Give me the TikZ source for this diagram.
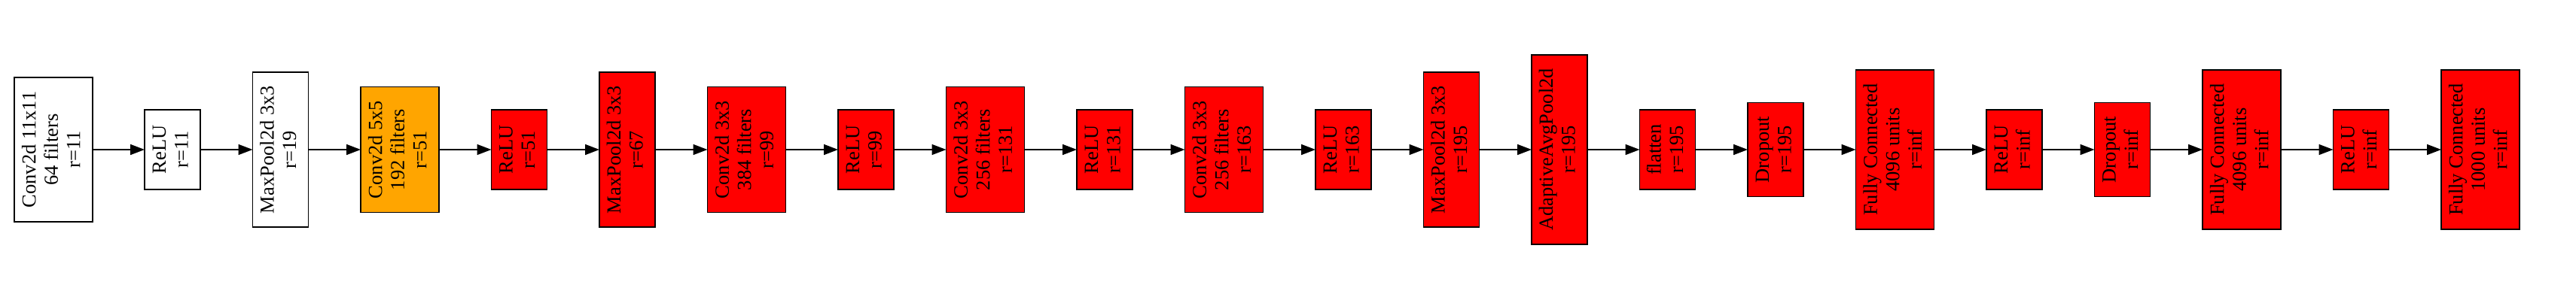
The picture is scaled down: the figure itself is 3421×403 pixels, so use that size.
\documentclass[tikz,border=0pt]{standalone}
\usepackage{fontspec}
\setmainfont{Liberation Serif}
\usetikzlibrary{arrows.meta}
\definecolor{gvred}{HTML}{FF0000}
\definecolor{gvorange}{HTML}{FFA500}
\newcommand{\vlab}[1]{\rotatebox{90}{\begin{tabular}{@{}c@{}}#1\end{tabular}}}
\tikzset{
  layer/.style={draw=black, line width=1.7pt, inner sep=0pt, outer sep=0pt,
    font=\fontsize{26.5}{29.5}\selectfont, text=black},
  two/.style={minimum width=74pt},
  three/.style={minimum width=104pt},
  plain/.style={fill=white},
  hot/.style={fill=gvred},
  warm/.style={fill=gvorange},
  link/.style={line width=1.7pt, -{Triangle[length=19pt,width=14pt]}},
}
\begin{document}
\begin{tikzpicture}[x=1pt,y=1pt]
\useasboundingbox (0,0) rectangle (3421,-403);
\def\cy{-199}
\node[layer,three,plain,minimum height=192pt] (n1) at (71,\cy) {\vlab{Conv2d 11x11\\64 filters\\r=11}};
\node[layer,two,plain,minimum height=106pt] (n2) at (229,\cy) {\vlab{ReLU\\r=11}};
\node[layer,two,plain,minimum height=206pt] (n3) at (372.5,\cy) {\vlab{MaxPool2d 3x3\\r=19}};
\node[layer,three,warm,minimum height=167pt] (n4) at (531,\cy) {\vlab{Conv2d 5x5\\192 filters\\r=51}};
\node[layer,two,hot,minimum height=106pt] (n5) at (689.5,\cy) {\vlab{ReLU\\r=51}};
\node[layer,two,hot,minimum height=206pt] (n6) at (833,\cy) {\vlab{MaxPool2d 3x3\\r=67}};
\node[layer,three,hot,minimum height=167pt] (n7) at (991.5,\cy) {\vlab{Conv2d 3x3\\384 filters\\r=99}};
\node[layer,two,hot,minimum height=106pt] (n8) at (1150,\cy) {\vlab{ReLU\\r=99}};
\node[layer,three,hot,minimum height=167pt] (n9) at (1308.5,\cy) {\vlab{Conv2d 3x3\\256 filters\\r=131}};
\node[layer,two,hot,minimum height=106pt] (n10) at (1467,\cy) {\vlab{ReLU\\r=131}};
\node[layer,three,hot,minimum height=167pt] (n11) at (1625.5,\cy) {\vlab{Conv2d 3x3\\256 filters\\r=163}};
\node[layer,two,hot,minimum height=106pt] (n12) at (1784,\cy) {\vlab{ReLU\\r=163}};
\node[layer,two,hot,minimum height=206pt] (n13) at (1927.5,\cy) {\vlab{MaxPool2d 3x3\\r=195}};
\node[layer,two,hot,minimum height=252pt] (n14) at (2071,\cy) {\vlab{AdaptiveAvgPool2d\\r=195}};
\node[layer,two,hot,minimum height=106pt] (n15) at (2214.5,\cy) {\vlab{flatten\\r=195}};
\node[layer,two,hot,minimum height=125pt] (n16) at (2358,\cy) {\vlab{Dropout\\r=195}};
\node[layer,three,hot,minimum height=212pt] (n17) at (2516.5,\cy) {\vlab{Fully Connected\\4096 units\\r=inf}};
\node[layer,two,hot,minimum height=106pt] (n18) at (2675,\cy) {\vlab{ReLU\\r=inf}};
\node[layer,two,hot,minimum height=125pt] (n19) at (2818.5,\cy) {\vlab{Dropout\\r=inf}};
\node[layer,three,hot,minimum height=212pt] (n20) at (2977,\cy) {\vlab{Fully Connected\\4096 units\\r=inf}};
\node[layer,two,hot,minimum height=106pt] (n21) at (3135.5,\cy) {\vlab{ReLU\\r=inf}};
\node[layer,three,hot,minimum height=212pt] (n22) at (3294,\cy) {\vlab{Fully Connected\\1000 units\\r=inf}};
\foreach \a/\b in {1/2,2/3,3/4,4/5,5/6,6/7,7/8,8/9,9/10,10/11,11/12,12/13,13/14,14/15,15/16,16/17,17/18,18/19,19/20,20/21,21/22}
  \draw[link] (n\a.east) -- (n\b.west);
\end{tikzpicture}
\end{document}
